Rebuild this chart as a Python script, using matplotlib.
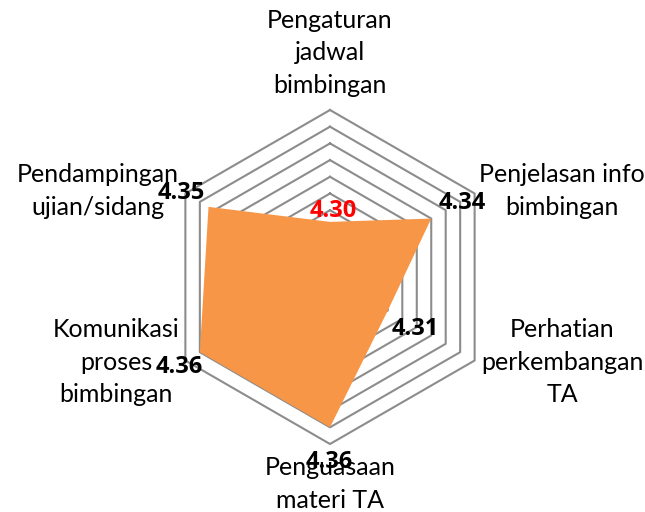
import numpy as np
import matplotlib
matplotlib.use("Agg")
import matplotlib.pyplot as plt

categories = ["Pengaturan\njadwal\nbimbingan",
              "Penjelasan info\nbimbingan",
              "Perhatian\nperkembangan\nTA",
              "Penguasaan\nmateri TA",
              "Komunikasi\nproses\nbimbingan",
              "Pendampingan\nujian/sidang"]
values = [4.303, 4.34, 4.31, 4.36, 4.36, 4.354]
value_labels = ["4.30", "4.34", "4.31", "4.36", "4.36", "4.35"]
value_colors = ["#ff0000", "black", "black", "black", "black", "black"]
r_min, r_max, r_step = 4.27, 4.37, 0.01

W, H = 645, 512
fig = plt.figure(figsize=(W / 100, H / 100), dpi=100)
cx, cy, R = 330, 277, 167
ax = fig.add_axes([(cx - R) / W, (H - cy - R) / H, 2 * R / W, 2 * R / H],
                  projection="polar")
ax.set_theta_zero_location("N")
ax.set_theta_direction(-1)
ax.set_ylim(r_min, r_max)
ax.grid(False)
ax.spines["polar"].set_visible(False)
ax.set_xticks([])
ax.set_yticks([])
ax.patch.set_alpha(0)

n = len(categories)
theta = np.linspace(0, 2 * np.pi, n + 1)
for r in np.arange(r_min + r_step, r_max + 1e-9, r_step):
    ax.plot(theta, [r] * (n + 1), color="#8c8c8c", lw=1.5, zorder=1,
            clip_on=False)

ax.fill(theta, values + [values[0]], color="#F79646", lw=0, zorder=2)

# data labels
offsets = [(2, 8), (22, 11.5), (19.5, -13.7), (-0.7, -25), (-15, -10.8), (-19.4, 10)]
for t, v, lab, col, off in zip(theta[:-1], values, value_labels, value_colors, offsets):
    ax.annotate(lab, xy=(t, v), xytext=off, textcoords="offset points",
                ha="center", va="center", fontsize=17, fontweight="bold",
                color=col, family="Open Sans", zorder=5, annotation_clip=False)

# category labels (pixel positions of block centres)
label_pos = [(330, 53), (562, 191), (562, 362), (330, 484), (116, 362), (98, 191)]
for lab, (px, py) in zip(categories, label_pos):
    fig.text(px / W, 1 - py / H, lab, ha="center", va="center",
             multialignment="center", fontsize=18, family="Lato",
             linespacing=1.5, color="black")

fig.savefig("out.png", dpi=100)
